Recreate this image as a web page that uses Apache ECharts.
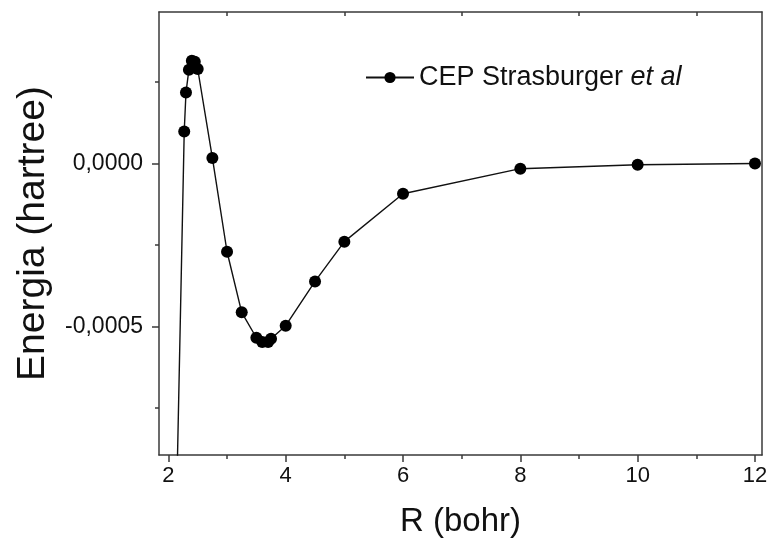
<!DOCTYPE html>
<html>
<head>
<meta charset="utf-8">
<script src="https://cdn.jsdelivr.net/npm/echarts@6/dist/echarts.min.js"></script>
<style>html,body{margin:0;padding:0;background:#fff}#c{width:771px;height:545px}</style>
</head>
<body>
<div id="c"></div>
<script>
// R (bohr)
const rBohr = [2.0, 2.27, 2.3, 2.35, 2.4, 2.45, 2.5, 2.75, 3.0, 3.25, 3.5, 3.6, 3.7, 3.75, 4.0, 4.5, 5.0, 6.0, 8.0, 10.0, 12.0];
// Energia (hartree)
const energia = [-0.00225, 0.000098, 0.000218, 0.000288, 0.000315, 0.000312, 0.000290, 0.000017, -0.000271, -0.000457, -0.000535, -0.000548, -0.000548, -0.000538, -0.000498, -0.000362, -0.000240, -0.000093, -0.000016, -0.000004, 0.0];
const xMajor = [2, 4, 6, 8, 10, 12];
const xMinor = [3, 5, 7, 9, 11];
const yMajor = [0, -0.0005];
const yMinor = [0.00025, -0.00025, -0.00075];
const seriesName = 'CEP Strasburger et al';

const font = '"Liberation Sans", Arial, sans-serif';
const lineCol = '#3a3a3a';
const X_MIN = 1.84, X_MAX = 12.12, Y_MIN = -0.000895, Y_MAX = 0.000465;

const chart = echarts.init(document.getElementById('c'));
const baseX = {type: 'value', min: X_MIN, max: X_MAX, splitLine: {show: false}};
const baseY = {type: 'value', min: Y_MIN, max: Y_MAX, splitLine: {show: false}};
chart.setOption({
  animation: false,
  backgroundColor: '#fff',
  grid: {left: 159, right: 9, top: 12, bottom: 90, containLabel: false},
  legend: {
    left: 360, top: 59,
    itemWidth: 48, itemHeight: 14, itemGap: 10,
    data: [seriesName],
    formatter: () => '{a|CEP Strasburger }{b|et al}',
    textStyle: {
      fontFamily: font, fontSize: 27, color: '#111',
      rich: {
        a: {fontFamily: font, fontSize: 27, color: '#111'},
        b: {fontFamily: font, fontSize: 27, color: '#111', fontStyle: 'italic'}
      }
    }
  },
  xAxis: [
    Object.assign({}, baseX, {
      position: 'bottom',
      name: 'R (bohr)', nameLocation: 'middle', nameGap: 50,
      nameTextStyle: {fontFamily: font, fontSize: 33, color: '#111'},
      axisLine: {show: true, onZero: false, lineStyle: {color: lineCol, width: 1.5}},
      axisTick: {show: true, inside: false, length: 7, customValues: xMajor, lineStyle: {color: lineCol, width: 1.5}},
      axisLabel: {show: true, customValues: xMajor, margin: 10, fontFamily: font, fontSize: 22, color: '#111'}
    }),
    Object.assign({}, baseX, {
      position: 'bottom',
      axisLine: {show: false, onZero: false},
      axisTick: {show: true, inside: false, length: 4, customValues: xMinor, lineStyle: {color: lineCol, width: 1.5}},
      axisLabel: {show: false}
    }),
    Object.assign({}, baseX, {
      position: 'top',
      axisLine: {show: true, onZero: false, lineStyle: {color: lineCol, width: 1.5}},
      axisTick: {show: true, inside: true, length: 4, customValues: xMinor, lineStyle: {color: lineCol, width: 1.5}},
      axisLabel: {show: false}
    })
  ],
  yAxis: [
    Object.assign({}, baseY, {
      position: 'left',
      name: 'Energia (hartree)', nameLocation: 'middle', nameGap: 106, nameRotate: 90,
      nameTextStyle: {fontFamily: font, fontSize: 39, color: '#111'},
      axisLine: {show: true, onZero: false, lineStyle: {color: lineCol, width: 1.5}},
      axisTick: {show: true, inside: false, length: 7, customValues: yMajor, lineStyle: {color: lineCol, width: 1.5}},
      axisLabel: {show: true, customValues: yMajor, margin: 16, fontFamily: font, fontSize: 23, color: '#111',
        formatter: v => v.toFixed(4).replace('.', ',')}
    }),
    Object.assign({}, baseY, {
      position: 'left',
      axisLine: {show: false, onZero: false},
      axisTick: {show: true, inside: false, length: 4, customValues: yMinor, lineStyle: {color: lineCol, width: 1.5}},
      axisLabel: {show: false}
    }),
    Object.assign({}, baseY, {
      position: 'right',
      axisLine: {show: true, onZero: false, lineStyle: {color: lineCol, width: 1.5}},
      axisTick: {show: false},
      axisLabel: {show: false}
    })
  ],
  series: [{
    name: seriesName,
    type: 'line',
    xAxisIndex: 0, yAxisIndex: 0,
    data: rBohr.map((r, i) => [r, energia[i]]),
    clip: true,
    symbol: 'circle', symbolSize: 12, showAllSymbol: true,
    lineStyle: {color: '#111', width: 1.4},
    itemStyle: {color: '#000'}
  }]
});
</script>
</body>
</html>
